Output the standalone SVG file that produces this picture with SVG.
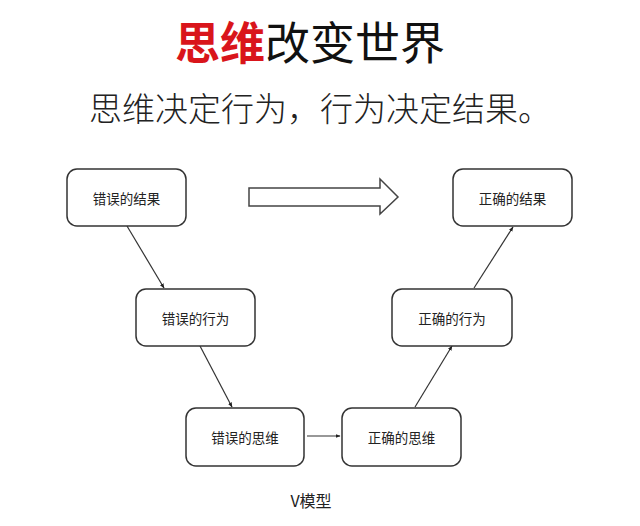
<svg xmlns="http://www.w3.org/2000/svg" width="640" height="526" viewBox="0 0 640 526">
<style>
.node rect{fill:#fff;stroke:#333;stroke-width:1.5}
.node text{font-family:"Noto Sans CJK SC",sans-serif;font-size:13.5px;fill:#222;text-anchor:middle;dominant-baseline:central}
.conn line{stroke:#333;stroke-width:1.2;marker-end:url(#ah)}
</style>
<defs>
<marker id="ah" viewBox="0 0 10 10" refX="9" refY="5" markerWidth="5" markerHeight="5" orient="auto" markerUnits="userSpaceOnUse">
<path d="M0,1 L10,5 L0,9 z" fill="#222"/>
</marker>
</defs>
<rect width="640" height="526" fill="#fff"/>
<text x="310" y="60" font-family="Noto Sans CJK SC,sans-serif" font-size="45" text-anchor="middle"><tspan fill="#d9151b" font-weight="700">思维</tspan><tspan fill="#111" font-weight="400">改变世界</tspan></text>
<text x="320" y="121" font-family="Noto Sans CJK SC,sans-serif" font-size="33" font-weight="300" fill="#222" text-anchor="middle">思维决定行为，行为决定结果。</text>
<path d="M249,188 L380,188 L380,179 L398,197 L380,214 L380,206 L249,206 Z" fill="#fff" stroke="#444" stroke-width="1.5"/>
<g class="conn">
<line x1="127" y1="226" x2="164" y2="288"/>
<line x1="200" y1="346" x2="232" y2="407"/>
<line x1="307" y1="436" x2="340" y2="436"/>
<line x1="415" y1="407" x2="452" y2="346"/>
<line x1="474" y1="288" x2="513" y2="227"/>
</g>
<g id="n1" class="node"><rect x="67" y="169" width="119" height="57" rx="10"/><text x="126.5" y="197.5">错误的结果</text></g>
<g id="n2" class="node"><rect x="136" y="289" width="119" height="57" rx="10"/><text x="195.5" y="317.5">错误的行为</text></g>
<g id="n3" class="node"><rect x="186" y="408" width="118" height="58" rx="10"/><text x="245" y="437">错误的思维</text></g>
<g id="n4" class="node"><rect x="342" y="408" width="119" height="58" rx="10"/><text x="401.5" y="437">正确的思维</text></g>
<g id="n5" class="node"><rect x="392" y="289" width="120" height="57" rx="10"/><text x="452" y="317.5">正确的行为</text></g>
<g id="n6" class="node"><rect x="453" y="169" width="119" height="57" rx="10"/><text x="512.5" y="197.5">正确的结果</text></g>
<text x="311" y="507" font-family="Noto Sans CJK SC,sans-serif" font-size="16" fill="#222" text-anchor="middle">V模型</text>
</svg>
